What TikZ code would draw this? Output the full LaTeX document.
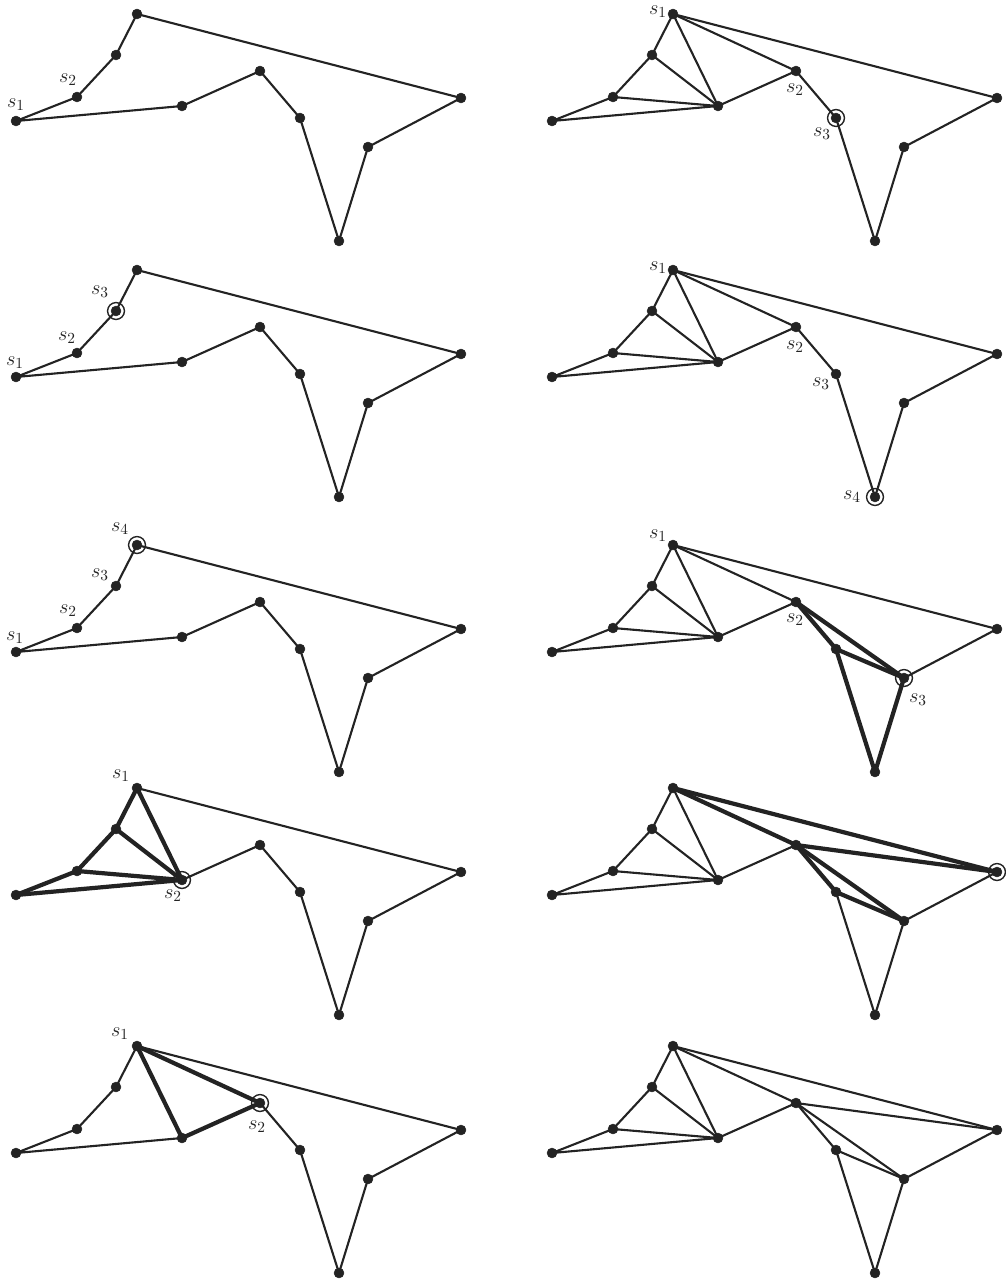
\documentclass[tikz,border=0pt]{standalone}
\usepackage{tkz-euclide}
\definecolor{ink}{RGB}{35,35,35}

% the same polygon in every panel, pixel units, y downwards
\newcommand\setpolygon{%
  \coordinate (A) at (16,121);
  \coordinate (B) at (77,97);
  \coordinate (C) at (116,55);
  \coordinate (D) at (137,14);
  \coordinate (E) at (461,98);
  \coordinate (F) at (368,147);
  \coordinate (G) at (339,241);
  \coordinate (H) at (300,118);
  \coordinate (I) at (260,71);
  \coordinate (J) at (182,106);
  \tkzDrawPolygon[side](A,B,C,D,E,F,G,H,I,J)}
\newcommand\drawdots{%
  \tkzDrawPoints[size=7,color=ink,fill=ink](A,B,C,D,E,F,G,H,I,J)}

\begin{document}
\begin{tikzpicture}[x=0.025cm,y=-0.025cm,line join=round,
  side/.style={draw=ink,line width=1.5pt},
  hot/.style={draw=ink,line width=3pt},
  ring/.style={draw=ink,line width=1pt},
  lab/.style={font=\fontsize{15}{16}\selectfont,inner sep=1pt,text=ink}]
  \useasboundingbox (0,0) rectangle (1005,1287);

  % left column
  \begin{scope}[shift={(0,0)}]
    \setpolygon
    \drawdots
    \node[lab] (s1) at ([shift={(0,-16)}]A) {$s_1$};
    \node[lab] (s2) at ([shift={(-9,-17)}]B) {$s_2$};
  \end{scope}
  \begin{scope}[shift={(0,256)}]
    \setpolygon
    \drawdots
    \draw[ring] (C) circle (6pt);
    \node[lab] (s1) at ([shift={(-1,-14)}]A) {$s_1$};
    \node[lab] (s2) at ([shift={(-10,-15)}]B) {$s_2$};
    \node[lab] (s3) at ([shift={(-16,-19)}]C) {$s_3$};
  \end{scope}
  \begin{scope}[shift={(0,531)}]
    \setpolygon
    \drawdots
    \draw[ring] (D) circle (6pt);
    \node[lab] (s1) at ([shift={(-1,-14)}]A) {$s_1$};
    \node[lab] (s2) at ([shift={(-9,-17)}]B) {$s_2$};
    \node[lab] (s3) at ([shift={(-16,-11)}]C) {$s_3$};
    \node[lab] (s4) at ([shift={(-17,-16)}]D) {$s_4$};
  \end{scope}
  \begin{scope}[shift={(0,774)}]
    \setpolygon
    \tkzDrawSegments[hot](D,J C,J B,J A,J D,C C,B B,A)
    \drawdots
    \draw[ring] (J) circle (6pt);
    \node[lab] (s1) at ([shift={(-16,-12)}]D) {$s_1$};
    \node[lab] (s2) at ([shift={(-9,16)}]J) {$s_2$};
  \end{scope}
  \begin{scope}[shift={(0,1032)}]
    \setpolygon
    \tkzDrawSegments[hot](D,J J,I D,I)
    \drawdots
    \draw[ring] (I) circle (6pt);
    \node[lab] (s1) at ([shift={(-17,-12)}]D) {$s_1$};
    \node[lab] (s2) at ([shift={(-3,24)}]I) {$s_2$};
  \end{scope}

  % right column
  \begin{scope}[shift={(536,0)}]
    \setpolygon
    \tkzDrawSegments[side](J,D J,C J,B D,I)
    \drawdots
    \draw[ring] (H) circle (6pt);
    \node[lab] (s1) at ([shift={(-15,-2)}]D) {$s_1$};
    \node[lab] (s2) at ([shift={(-1,19)}]I) {$s_2$};
    \node[lab] (s3) at ([shift={(-14,16)}]H) {$s_3$};
  \end{scope}
  \begin{scope}[shift={(536,256)}]
    \setpolygon
    \tkzDrawSegments[side](J,D J,C J,B D,I)
    \drawdots
    \draw[ring] (G) circle (6pt);
    \node[lab] (s1) at ([shift={(-15,-2)}]D) {$s_1$};
    \node[lab] (s2) at ([shift={(-1,20)}]I) {$s_2$};
    \node[lab] (s3) at ([shift={(-15,10)}]H) {$s_3$};
    \node[lab] (s4) at ([shift={(-23,0)}]G) {$s_4$};
  \end{scope}
  \begin{scope}[shift={(536,531)}]
    \setpolygon
    \tkzDrawSegments[side](J,D J,C J,B D,I)
    \tkzDrawSegments[hot](I,H H,G G,F H,F I,F)
    \drawdots
    \draw[ring] (F) circle (6pt);
    \node[lab] (s1) at ([shift={(-15,-9)}]D) {$s_1$};
    \node[lab] (s2) at ([shift={(-1,18)}]I) {$s_2$};
    \node[lab] (s3) at ([shift={(14,22)}]F) {$s_3$};
  \end{scope}
  \begin{scope}[shift={(536,774)}]
    \setpolygon
    \tkzDrawSegments[side](J,D J,C J,B)
    \tkzDrawSegments[hot](D,E D,I I,E I,F H,F I,H)
    \drawdots
    \draw[ring] (E) circle (6pt);
  \end{scope}
  \begin{scope}[shift={(536,1032)}]
    \setpolygon
    \tkzDrawSegments[side](J,D J,C J,B D,I I,E I,F H,F)
    \drawdots
  \end{scope}
\end{tikzpicture}
\end{document}
